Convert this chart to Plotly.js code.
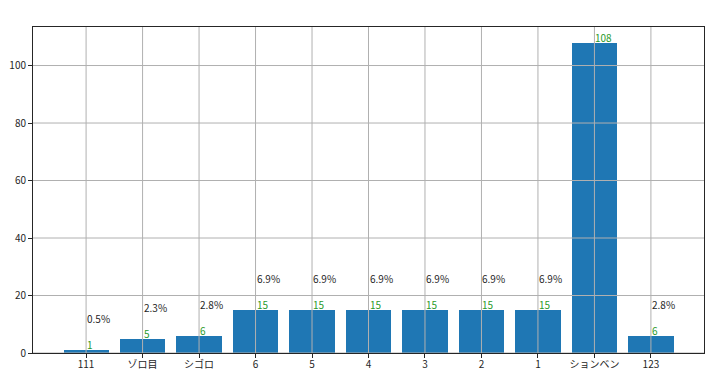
<!DOCTYPE html>
<html>
<head>
<meta charset="utf-8">
<script src="https://cdn.plot.ly/plotly-3.0.1.min.js"></script>
<style>html,body{margin:0;padding:0;background:#fff;}#chart{width:709px;height:377px;}</style>
</head>
<body>
<div id="chart"></div>
<script>
const categories = ["111", "ゾロ目", "シゴロ", "6", "5", "4", "3", "2", "1", "ションベン", "123"];
const counts = [1, 5, 6, 15, 15, 15, 15, 15, 15, 108, 6];
const yTicks = [0, 20, 40, 60, 80, 100];

const total = counts.reduce((a, b) => a + b, 0);
const percents = counts.map(c => (c / total * 100).toFixed(1) + "%");
const idx = categories.map((_, i) => i);
const FONT = "'Noto Sans CJK JP', 'DejaVu Sans', sans-serif";
const yMax = Math.max(...counts) * 1.05;

const trace = {
  type: "bar",
  x: idx,
  y: counts,
  width: 0.8,
  marker: {color: "#1f77b4", line: {width: 0}},
  hoverinfo: "skip"
};

const annotations = [];
idx.forEach(i => {
  annotations.push({
    x: i, y: counts[i], xref: "x", yref: "y",
    text: String(counts[i]), showarrow: false,
    xanchor: "left", yanchor: "bottom", borderpad: 0, yshift: -3, xshift: 0,
    font: {family: FONT, size: 10, color: "#2a9a2a"}
  });
  annotations.push({
    x: i, y: counts[i] + 10, xref: "x", yref: "y",
    text: percents[i], showarrow: false,
    xanchor: "left", yanchor: "bottom", borderpad: 0, yshift: -6, xshift: 0,
    font: {family: FONT, size: 10, color: "#262626"}
  });
});

const shapes = [];
idx.forEach(i => {
  shapes.push({type: "line", xref: "x", yref: "paper", x0: i, x1: i, y0: 0, y1: 1,
    line: {color: "#b0b0b0", width: 1}, layer: "above"});
});
yTicks.forEach(t => {
  shapes.push({type: "line", xref: "paper", yref: "y", x0: 0, x1: 1, y0: t, y1: t,
    line: {color: "#b0b0b0", width: 1}, layer: "above"});
});

const layout = {
  width: 709, height: 377,
  margin: {l: 33, r: 5, t: 27, b: 24},
  paper_bgcolor: "#fff", plot_bgcolor: "#fff",
  showlegend: false,
  bargap: 0,
  xaxis: {
    range: [-0.94, 10.94],
    tickmode: "array", tickvals: idx, ticktext: categories,
    showgrid: false, zeroline: false,
    showline: true, mirror: true, linecolor: "#262626", linewidth: 1,
    ticks: "outside", ticklen: 4, tickcolor: "#262626", tickwidth: 1,
    ticklabelstandoff: -2,
    tickfont: {family: FONT, size: 10, color: "#262626"}
  },
  yaxis: {
    range: [0, yMax],
    tickmode: "array", tickvals: yTicks,
    showgrid: false, zeroline: false,
    showline: true, mirror: true, linecolor: "#262626", linewidth: 1,
    ticks: "outside", ticklen: 4, tickcolor: "#262626", tickwidth: 1,
    tickfont: {family: FONT, size: 10, color: "#262626"}
  },
  annotations: annotations,
  shapes: shapes
};

Plotly.newPlot("chart", [trace], layout, {staticPlot: true});
</script>
</body>
</html>
